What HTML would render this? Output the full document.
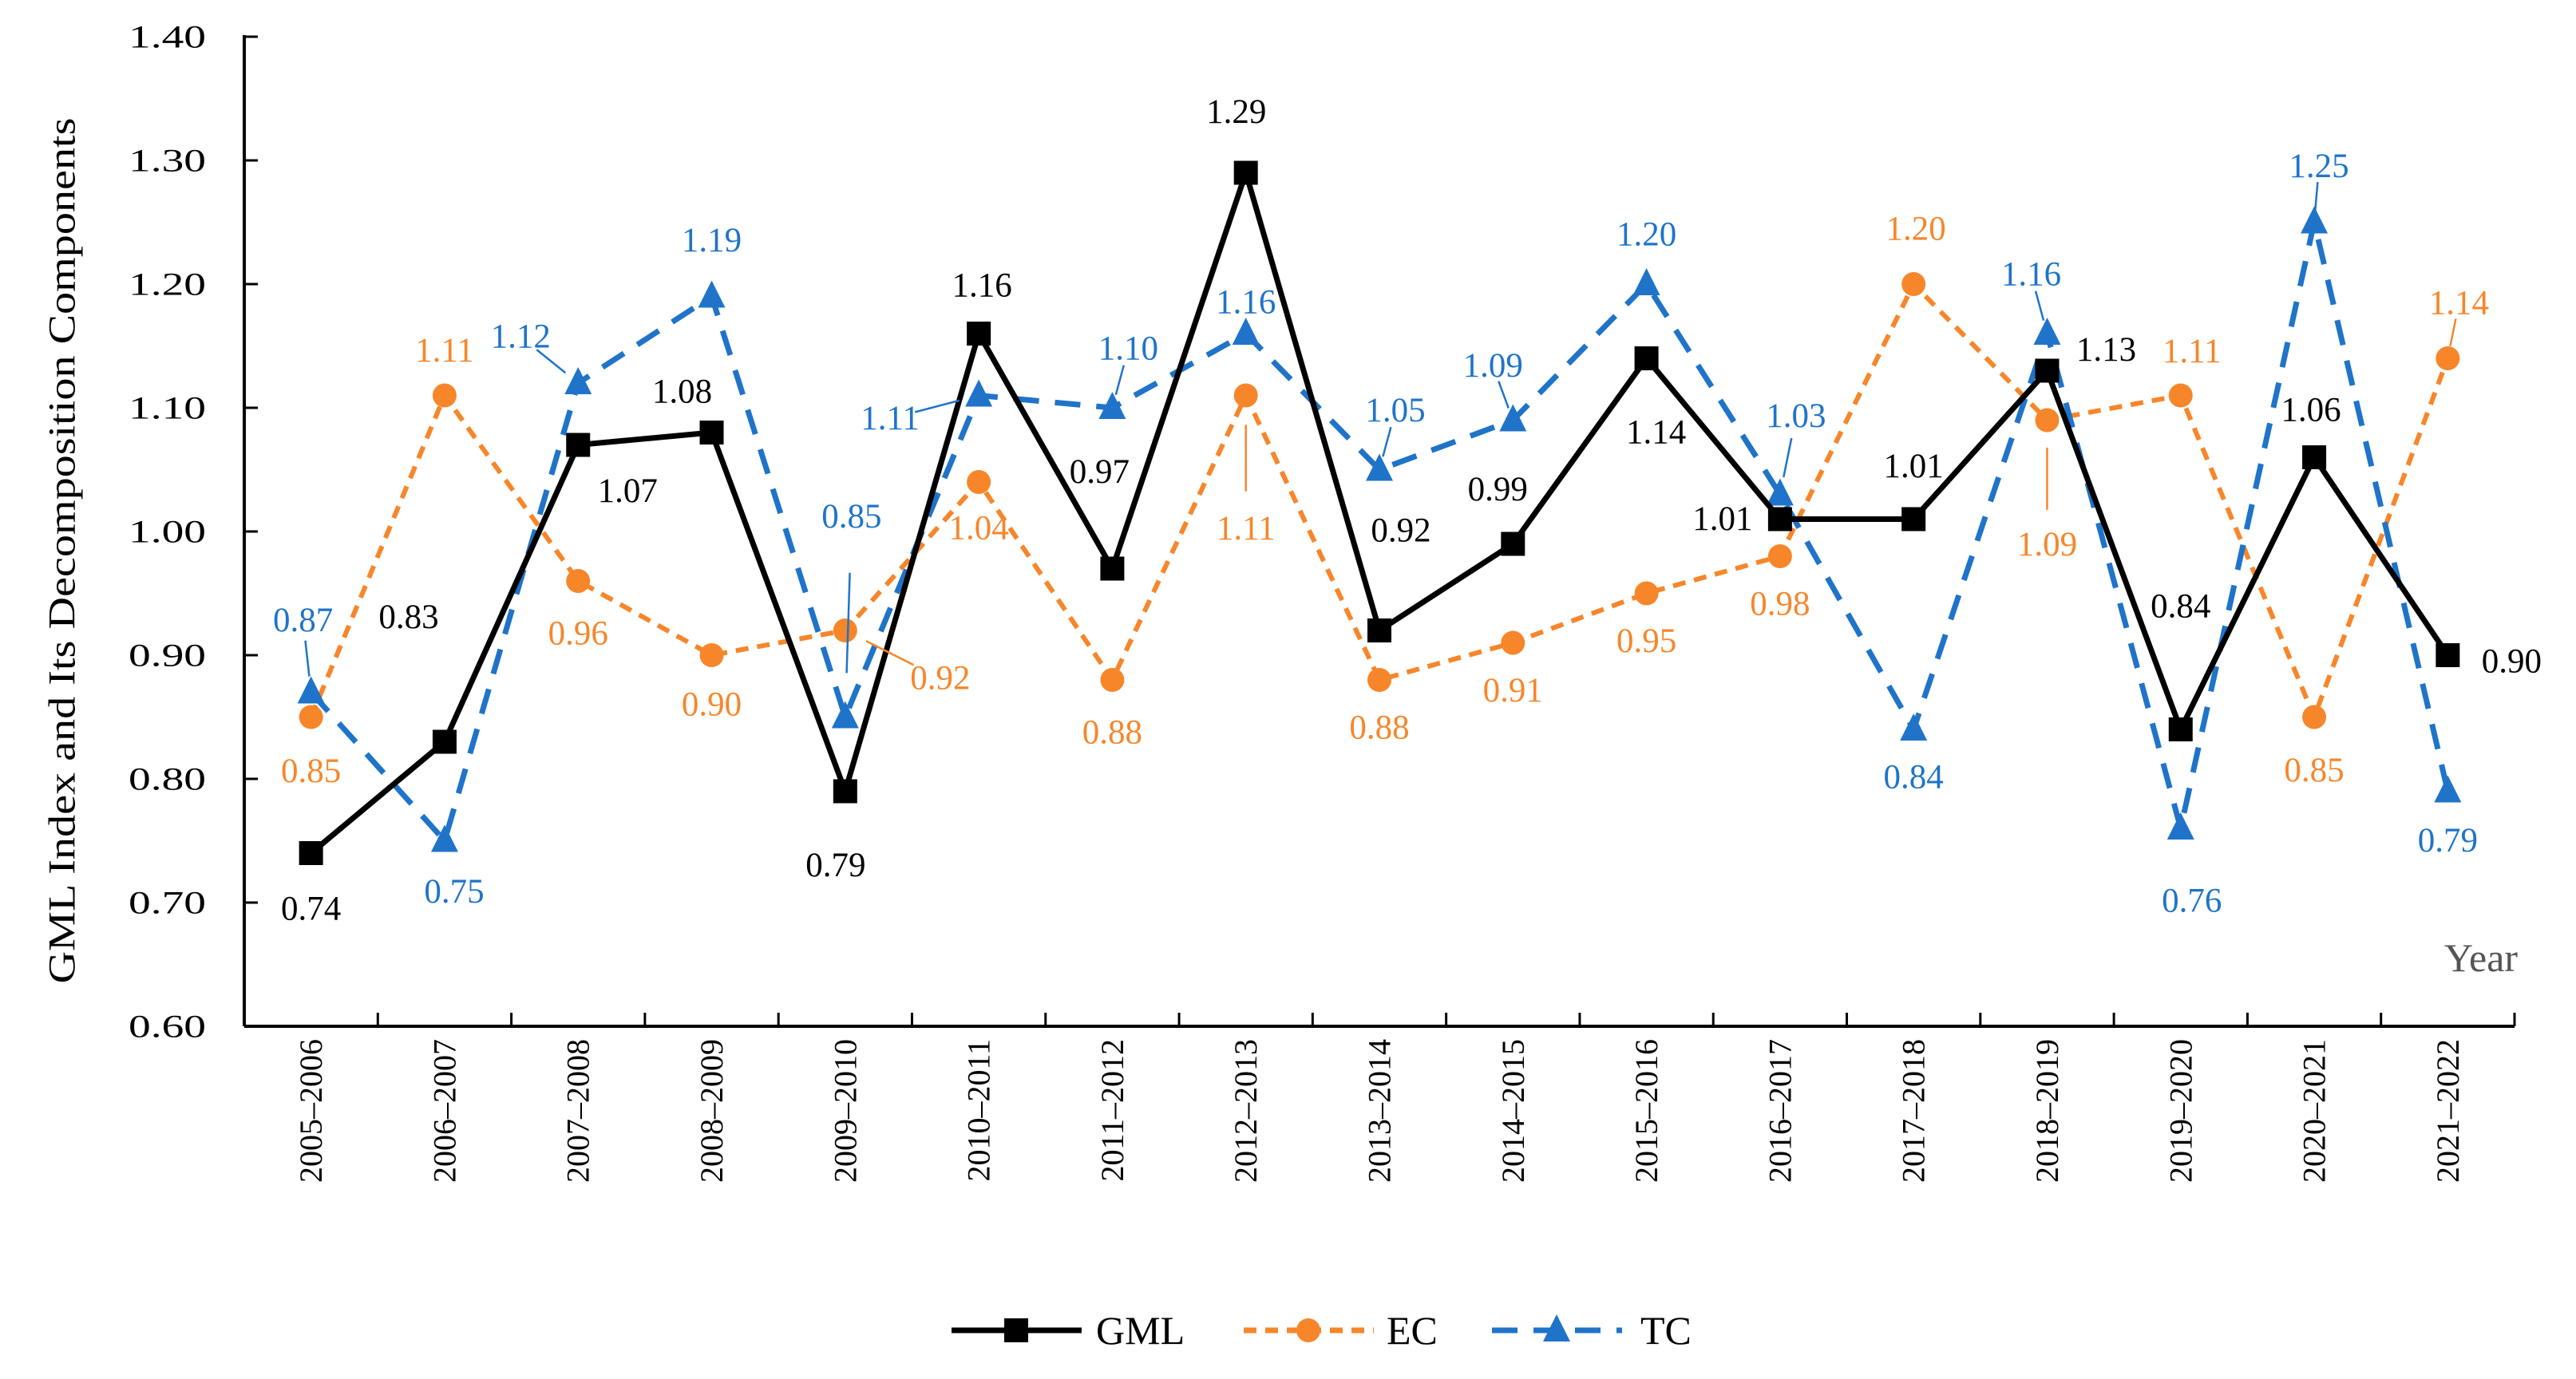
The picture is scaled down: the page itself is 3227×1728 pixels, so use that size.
<!DOCTYPE html>
<html><head><meta charset="utf-8"><style>
html,body{margin:0;padding:0;background:#fff;}
svg{display:block;font-family:"Liberation Serif",serif;}
</style></head><body>
<svg id="chart" width="3227" height="1728" viewBox="0 0 3227 1728">
<g id="axes"></g>
<g id="series"></g>
<g id="labels"></g>
<text x="78" y="690" font-size="48" text-anchor="middle" dominant-baseline="central" textLength="1085" lengthAdjust="spacingAndGlyphs" transform="rotate(-90 78 690)" fill="#000">GML Index and Its Decomposition Components</text>
<text x="3108" y="1200" font-size="50" text-anchor="middle" dominant-baseline="central" fill="#555">Year</text>
<g id="legend"></g>
</svg>
<script>
const categories = ["2005–2006","2006–2007","2007–2008","2008–2009","2009–2010","2010–2011","2011–2012","2012–2013","2013–2014","2014–2015","2015–2016","2016–2017","2017–2018","2018–2019","2019–2020","2020–2021","2021–2022"];
const gmlValues = [0.74,0.83,1.07,1.08,0.79,1.16,0.97,1.29,0.92,0.99,1.14,1.01,1.01,1.13,0.84,1.06,0.90];
const ecValues = [0.85,1.11,0.96,0.90,0.92,1.04,0.88,1.11,0.88,0.91,0.95,0.98,1.20,1.09,1.11,0.85,1.14];
const tcValues = [0.87,0.75,1.12,1.19,0.85,1.11,1.10,1.16,1.05,1.09,1.20,1.03,0.84,1.16,0.76,1.25,0.79];
const yTicks = [0.60,0.70,0.80,0.90,1.00,1.10,1.20,1.30,1.40];
// label placement offsets (pixels) [dx, dy, leader]
const gmlOff = [[0,70,0],[-45,-156,0],[62,58,0],[-37,-51,0],[-12,93,0],[4,-60,0],[-16,-121,0],[-12,-76,0],[27,-125,0],[-19,-68,0],[12,93,0],[-72,0,0],[0,-66,0],[74,-26,0],[0,-154,0],[-4,-59,0],[80,8,0]];
const ecOff = [[0,68,0],[0,-56,0],[0,66,0],[0,62,0],[119,60,1],[0,58,0],[0,66,0],[0,167,1],[0,60,0],[0,60,0],[0,60,0],[0,60,0],[3,-69,0],[0,156,1],[14,-55,0],[0,67,0],[14,-69,1]];
const tcOff = [[-10,-90,1],[12,64,0],[-72,-58,1],[0,-70,0],[8,-251,1],[-111,29,1],[20,-74,1],[0,-39,0],[20,-74,1],[-25,-68,1],[0,-62,0],[20,-98,1],[0,60,0],[-20,-74,1],[14,91,0],[6,-70,1],[0,62,0]];

const NS="http://www.w3.org/2000/svg";
const X0=306,X1=3150,Y0=1286,Y1=46,YMIN=0.6,YMAX=1.4;
const band=(X1-X0)/categories.length;
const xPos=i=>X0+band*(i+0.5);
const yPos=v=>Y0-(v-YMIN)/(YMAX-YMIN)*(Y0-Y1);
function mk(tag,attrs,parent){const e=document.createElementNS(NS,tag);for(const k in attrs)e.setAttribute(k,attrs[k]);parent.appendChild(e);return e;}
const axes=document.getElementById('axes'),series=document.getElementById('series'),labels=document.getElementById('labels'),legend=document.getElementById('legend');

let a=mk('line',{x1:X0,y1:Y1-2,x2:X0,y2:Y0,stroke:'#000','stroke-width':4},axes);


a=mk('line',{x1:X0,y1:Y0,x2:X1,y2:Y0,stroke:'#000','stroke-width':4},axes);


yTicks.forEach(t=>{
  const y=yPos(t);
  const tk=mk('line',{x1:X0,y1:y,x2:X0+17,y2:y,stroke:'#000','stroke-width':3},axes);
  
  
  const tx=mk('text',{x:258,y:y,'font-size':40,'text-anchor':'end','dominant-baseline':'central',fill:'#000',textLength:97,lengthAdjust:'spacingAndGlyphs'},axes);
  tx.textContent=t.toFixed(2);
  
  
});
for(let i=1;i<=categories.length;i++){
  const x=X0+band*i;
  const tk=mk('line',{x1:x,y1:Y0,x2:x,y2:Y0-17,stroke:'#000','stroke-width':3},axes);
  
  
}
categories.forEach((c,i)=>{
  const x=xPos(i),y=1302;
  const tx=mk('text',{x:x,y:y,'font-size':40,'text-anchor':'end','dominant-baseline':'central',fill:'#000',transform:`rotate(-90 ${x} ${y})`},axes);
  tx.textContent=c;
  
  
});

function marker(type,x,y,color,parent){
  let m;
  if(type==='sq') m=mk('rect',{x:x-15,y:y-15,width:30,height:30,fill:color},parent);
  else if(type==='ci') m=mk('circle',{cx:x,cy:y,r:15,fill:color},parent);
  else m=mk('polygon',{points:`${x},${y-20} ${x+17},${y+14} ${x-17},${y+14}`,fill:color},parent);
  return m;
}
function drawSeries(vals,off,color,dash,width,type,name){
  const g=mk('g',{},series);
  
  
  const pts=vals.map((v,i)=>`${xPos(i)},${yPos(v)}`).join(' ');
  const pl=mk('polyline',{points:pts,fill:'none',stroke:color,'stroke-width':width,'stroke-dasharray':dash,'stroke-linejoin':'miter'},g);
  
  
  vals.forEach((v,i)=>{
    const x=xPos(i),y=yPos(v);
    const m=marker(type,x,y,color,g);
    
    
    const o=off[i];
    if(o[2]){
      const ln=mk('line',{x1:x+o[0]*0.72,y1:y+o[1]*0.72,x2:x+o[0]*0.22,y2:y+o[1]*0.22,stroke:color,'stroke-width':2.5},labels);
      
      
    }
    const t=mk('text',{x:x+o[0],y:y+o[1],'font-size':43,'text-anchor':'middle','dominant-baseline':'central',fill:color},labels);
    t.textContent=v.toFixed(2);
    
    
  });
}
drawSeries(ecValues,ecOff,'#F7862A','16 11',6,'ci','ec');
drawSeries(tcValues,tcOff,'#1F74C9','32 20',7,'tr','tc');
drawSeries(gmlValues,gmlOff,'#000','none',7,'sq','gml');

const legItems=[['GML','#000','none','sq',1192,1373],['EC','#F7862A','16 11','ci',1558,1737],['TC','#1F74C9','32 20','tr',1869,2055]];
legItems.forEach(it=>{
  const g=mk('g',{},legend);
  
  
  const y=1667;
  mk('line',{x1:it[4],y1:y,x2:it[4]+163,y2:y,stroke:it[1],'stroke-width':7,'stroke-dasharray':it[2]},g);
  marker(it[3],it[4]+81,y,it[1],g);
  const t=mk('text',{x:it[5],y:y,'font-size':50,'dominant-baseline':'central',fill:'#000'},g);
  t.textContent=it[0];
});
</script>
</body></html>
